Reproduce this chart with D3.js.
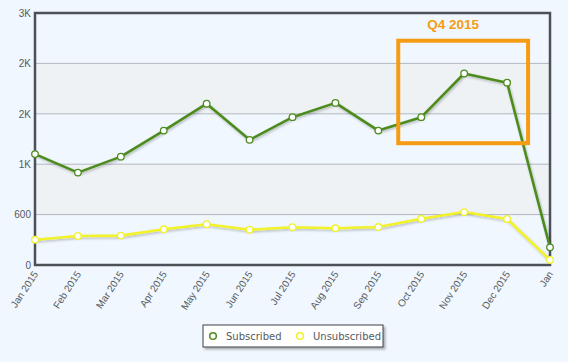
<!DOCTYPE html>
<html><head><meta charset="utf-8">
<script src="https://cdn.jsdelivr.net/npm/d3@7"></script>
<style>
html,body{margin:0;padding:0;background:#f0f7fe;}
svg{display:block;font-family:"DejaVu Sans",Verdana,sans-serif;}
</style></head>
<body>
<svg id="c" width="568" height="362"></svg>
<script>
const categories = ["Jan 2015","Feb 2015","Mar 2015","Apr 2015","May 2015","Jun 2015","Jul 2015","Aug 2015","Sep 2015","Oct 2015","Nov 2015","Dec 2015","Jan"];
const subscribed = [1320,1100,1290,1600,1920,1490,1760,1930,1600,1760,2280,2170,210];
const unsubscribed = [300,345,350,425,485,420,450,437,452,550,630,548,60];
const yTicks = [0,600,1200,1800,2400,3000];
const yTickLabels = ["0","600","1K","2K","2K","3K"];
const seriesNames = ["Subscribed","Unsubscribed"];
const annotation = {label:"Q4 2015", from:"Oct 2015", to:"Dec 2015"};

const svg = d3.select("#c");
const m = {l:35, r:18, t:13, b:97};
const W = 568, H = 362;
const x = d3.scalePoint().domain(categories).range([m.l, W-m.r]);
const y = d3.scaleLinear().domain([0,3000]).range([H-m.b, m.t]);

const defs = svg.append("defs");
const f = defs.append("filter").attr("id","sh").attr("x","-10%").attr("y","-10%").attr("width","120%").attr("height","130%");
f.append("feDropShadow").attr("dx",1).attr("dy",1.5).attr("stdDeviation",1).attr("flood-color","#000").attr("flood-opacity",0.25);
const f2 = defs.append("filter").attr("id","lsh").attr("x","-10%").attr("y","-20%").attr("width","130%").attr("height","160%");
f2.append("feDropShadow").attr("dx",2).attr("dy",2).attr("stdDeviation",1).attr("flood-color","#000").attr("flood-opacity",0.3);

// plot background
svg.append("rect").attr("x",m.l).attr("y",m.t).attr("width",W-m.r-m.l).attr("height",H-m.b-m.t).attr("fill","#f0f7fe");
// alternating bands
for (let i=0;i<yTicks.length-1;i++){
  if (i%2===1){
    svg.append("rect").attr("x",m.l).attr("width",W-m.r-m.l)
      .attr("y",y(yTicks[i+1])).attr("height",y(yTicks[i])-y(yTicks[i+1]))
      .attr("fill","#eff2f5");
  }
}
// grid
svg.append("g").selectAll("line").data(yTicks.slice(1,-1)).join("line")
  .attr("x1",m.l).attr("x2",W-m.r).attr("y1",d=>y(d)).attr("y2",d=>y(d))
  .attr("stroke","#b4b8bf").attr("stroke-width",1);

// y axis labels
const yAxis = d3.axisLeft(y).tickValues(yTicks).tickFormat((d,i)=>yTickLabels[i]).tickSize(0).tickPadding(4);
const gy = svg.append("g").attr("transform",`translate(${m.l},0)`).call(yAxis);
gy.select(".domain").remove();
gy.selectAll("text").attr("fill","#555a60").attr("font-size","10px");

// x axis labels
const xAxis = d3.axisBottom(x).tickSize(0).tickPadding(0);
const gx = svg.append("g").attr("transform",`translate(0,${H-m.b})`).call(xAxis);
gx.select(".domain").remove();
gx.selectAll("text").attr("fill","#555a60").attr("font-size","10px")
  .attr("text-anchor","end").attr("dy",0)
  .attr("transform","translate(3,9) rotate(-57)");

// frame
svg.append("rect").attr("x",m.l).attr("y",m.t).attr("width",W-m.r-m.l).attr("height",H-m.b-m.t)
  .attr("fill","none").attr("stroke","#4c5157").attr("stroke-width",2.5);

const line = d3.line().x((d,i)=>x(categories[i])).y(d=>y(d));
const series = [
  {name:seriesNames[0], data:subscribed, color:"#4d8c1f"},
  {name:seriesNames[1], data:unsubscribed, color:"#f2f22a"}
];
series.slice().reverse().forEach(s=>{
  svg.append("path").datum(s.data).attr("d",line).attr("fill","none")
    .attr("stroke",s.color).attr("stroke-width",2.6).attr("stroke-linejoin","round")
    .attr("filter","url(#sh)");
  svg.append("g").selectAll("circle").data(s.data).join("circle")
    .attr("cx",(d,i)=>x(categories[i])).attr("cy",d=>y(d)).attr("r",3.3)
    .attr("fill","#fff").attr("stroke",s.color).attr("stroke-width",1.3);
});

// annotation
const ax0 = x(annotation.from)-23, ax1 = x(annotation.to)+21;
svg.append("rect").attr("x",ax0).attr("y",y(2670)).attr("width",ax1-ax0).attr("height",y(1450)-y(2670))
  .attr("fill","none").attr("stroke","#f59c12").attr("stroke-width",4);
svg.append("text").attr("x",(ax0+ax1)/2-10).attr("y",29).attr("text-anchor","middle")
  .attr("font-family","'Liberation Sans',Arial,sans-serif").attr("font-weight","bold").attr("font-size","13.5px")
  .attr("fill","#f59c12").text(annotation.label);

// legend
const lg = svg.append("g").attr("transform","translate(203,325)");
lg.append("rect").attr("width",180).attr("height",22).attr("fill","#ffffff").attr("stroke","#3c4046").attr("stroke-width",1).attr("filter","url(#lsh)");
const lx = [10,97];
series.forEach((s,i)=>{
  lg.append("circle").attr("cx",lx[i]).attr("cy",11).attr("r",3.3).attr("fill","#fff").attr("stroke",s.color).attr("stroke-width",1.5);
  lg.append("text").attr("x",lx[i]+13).attr("y",15).attr("font-size","10px").attr("fill","#555a60").text(s.name);
});
</script>
</body></html>
